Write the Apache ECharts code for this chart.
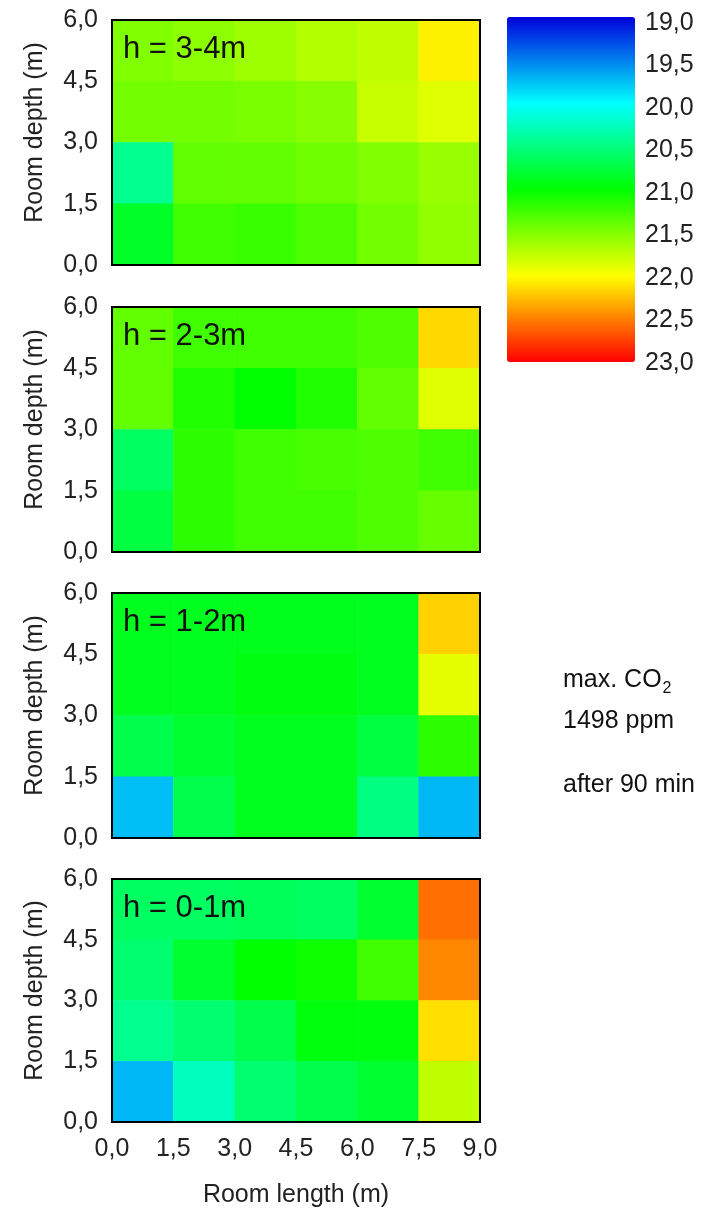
<!DOCTYPE html>
<html>
<head>
<meta charset="utf-8">
<script src="https://cdn.jsdelivr.net/npm/echarts@6/dist/echarts.min.js"></script>
<style>
  html, body { margin: 0; padding: 0; background: #fff; }
  #chart { width: 715px; height: 1209px; }
</style>
</head>
<body>
<div id="chart"></div>
<script>
// temperatures in degC, rows listed from top (depth 4.5-6 m) to bottom (0-1.5 m)
var h34 = [
  [21.50, 21.55, 21.62, 21.70, 21.75, 22.05],
  [21.45, 21.45, 21.47, 21.53, 21.78, 21.88],
  [20.44, 21.38, 21.38, 21.44, 21.50, 21.60],
  [20.85, 21.25, 21.22, 21.30, 21.45, 21.57]
];
var h23 = [
  [21.38, 21.25, 21.25, 21.25, 21.30, 22.15],
  [21.38, 21.12, 21.00, 21.12, 21.38, 21.88],
  [20.62, 21.18, 21.25, 21.28, 21.30, 21.25],
  [20.75, 21.18, 21.25, 21.25, 21.30, 21.40]
];
var h12 = [
  [20.88, 20.88, 20.90, 20.90, 20.88, 22.18],
  [20.88, 20.88, 20.94, 20.94, 20.88, 21.90],
  [20.70, 20.82, 20.88, 20.88, 20.75, 21.18],
  [19.75, 20.70, 20.88, 20.88, 20.50, 19.72]
];
var h01 = [
  [20.62, 20.62, 20.65, 20.62, 20.82, 22.56],
  [20.56, 20.82, 21.00, 21.05, 21.25, 22.47],
  [20.44, 20.56, 20.70, 20.95, 20.95, 22.12],
  [19.72, 20.25, 20.56, 20.70, 20.82, 21.75]
];
var panels = [h34, h23, h12, h01];
var panelLabels = ['h = 3-4m', 'h = 2-3m', 'h = 1-2m', 'h = 0-1m'];
var lengthCells = ['0-1.5', '1.5-3', '3-4.5', '4.5-6', '6-7.5', '7.5-9'];
var depthCells = ['0-1.5', '1.5-3', '3-4.5', '4.5-6'];
var colorStops = ['#0000dc', '#00ffff', '#00ff00', '#ffff00', '#ff0000'];
var noteLines = ['1498 ppm', 'after 90 min'];

var chart = echarts.init(document.getElementById('chart'));

function comma(v) { return v.toFixed(1).replace('.', ','); }

var FONT = 'Liberation Sans';
var tops = [20, 307, 593, 879];
var grids = [], xAxes = [], yAxes = [], series = [], texts = [];

panels.forEach(function (rows, g) {
  grids.push({
    left: 112, top: tops[g], width: 368, height: 245,
    show: true, z: 5, borderColor: '#000', borderWidth: 2,
    backgroundColor: 'transparent'
  });
  // hidden category axes for the cells
  xAxes.push({ type: 'category', gridIndex: g, position: 'top', data: lengthCells, show: false });
  yAxes.push({ type: 'category', gridIndex: g, position: 'right', data: depthCells, show: false });
  // value axes for the labels
  var last = g === panels.length - 1;
  xAxes.push({
    type: 'value', gridIndex: g, position: 'bottom', min: 0, max: 9, interval: 1.5,
    axisLine: { show: false }, axisTick: { show: false }, splitLine: { show: false },
    axisLabel: { show: last, formatter: comma, fontSize: 25, color: '#222', margin: 15, fontFamily: FONT },
    name: last ? 'Room length (m)' : '', nameLocation: 'middle', nameGap: 61,
    nameTextStyle: { fontSize: 25, color: '#222', fontFamily: FONT }
  });
  yAxes.push({
    type: 'value', gridIndex: g, position: 'left', min: 0, max: 6, interval: 1.5,
    axisLine: { show: false }, axisTick: { show: false }, splitLine: { show: false },
    axisLabel: { formatter: comma, fontSize: 25, color: '#222', margin: 14, fontFamily: FONT },
    name: 'Room depth (m)', nameLocation: 'middle', nameGap: 64,
    nameTextStyle: { fontSize: 25, color: '#222', fontFamily: FONT, padding: [0, 0, 0, 20] }
  });
  var data = [];
  rows.forEach(function (row, r) {
    row.forEach(function (v, c) {
      data.push([c, rows.length - 1 - r, v]);
    });
  });
  series.push({
    type: 'heatmap', xAxisIndex: 2 * g, yAxisIndex: 2 * g,
    data: data, itemStyle: { borderWidth: 0 }, emphasis: { disabled: true }
  });
  texts.push({
    type: 'text', left: 123, top: tops[g] + 14, z: 10,
    style: { text: panelLabels[g], fontSize: 31, fill: '#111', fontFamily: FONT }
  });
});

// colour bar tick labels
grids.push({ left: 507, top: 23, width: 128, height: 340, show: false });
xAxes.push({ type: 'value', gridIndex: 4, show: false });
yAxes.push({
  type: 'value', gridIndex: 4, min: 19, max: 23, interval: 0.5, inverse: true, position: 'right',
  axisLine: { show: false }, axisTick: { show: false }, splitLine: { show: false },
  axisLabel: { formatter: comma, fontSize: 25, color: '#222', margin: 10, fontFamily: FONT }
});

// side note
texts.push({
  type: 'text', left: 563, top: 668,
  style: {
    text: '{a|max. CO}{b|2}',
    rich: {
      a: { fontSize: 25, fill: '#111', fontFamily: FONT },
      b: { fontSize: 16, fill: '#111', fontFamily: FONT, padding: [16, 0, 0, 1] }
    }
  }
});
texts.push({
  type: 'text', left: 563, top: 709,
  style: { text: noteLines[0], fontSize: 25, fill: '#111', fontFamily: FONT }
});
texts.push({
  type: 'text', left: 563, top: 773,
  style: { text: noteLines[1], fontSize: 25, fill: '#111', fontFamily: FONT }
});

var option = {
  backgroundColor: '#fff',
  animation: false,
  grid: grids,
  xAxis: xAxes,
  yAxis: yAxes,
  visualMap: {
    type: 'continuous', min: 19, max: 23, seriesIndex: [0, 1, 2, 3],
    orient: 'vertical', inverse: true, calculable: false, text: null, hoverLink: false,
    left: 507, top: 17, padding: 0, itemWidth: 128, itemHeight: 345,
    showLabel: false,
    inRange: { color: colorStops }
  },
  graphic: texts,
  series: series
};
chart.setOption(option);
</script>
</body>
</html>
